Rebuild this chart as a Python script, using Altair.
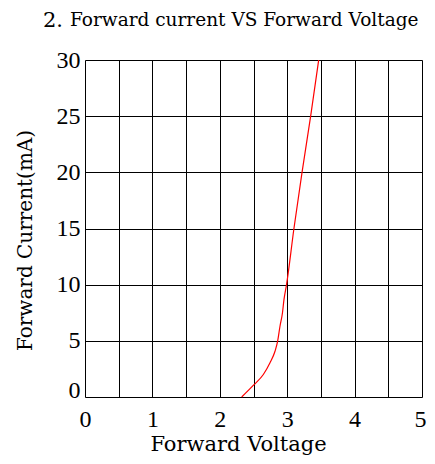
import altair as alt
import pandas as pd

# Data
voltage = [2.325, 2.50, 2.646, 2.745, 2.819, 2.859, 2.893, 2.93, 2.952, 2.99, 3.10, 3.22, 3.348, 3.467]
current = [0.0, 1.05, 2.0, 3.04, 4.07, 5.0, 6.3, 7.5, 8.67, 10.0, 15.0, 20.0, 25.0, 30.0]

x_ticks = [0, 0.5, 1, 1.5, 2, 2.5, 3, 3.5, 4, 4.5, 5]
y_ticks = [0, 5, 10, 15, 20, 25, 30]

title_num = "2."
title_text = "Forward current VS Forward Voltage"
x_title = "Forward Voltage"
y_title = "Forward Current(mA)"

df = pd.DataFrame({"V": voltage, "I": current})

W, H = 337, 337

line = alt.Chart(df).mark_line(color="red", strokeWidth=1.2, interpolate="monotone").encode(
    x=alt.X("V:Q", scale=alt.Scale(domain=[0, 5], nice=False),
            axis=alt.Axis(values=x_ticks, format="~g", grid=True, gridColor="black", gridOpacity=1,
                          gridWidth=1, ticks=False, domain=False, labelFlush=False,
                          labelExpr="datum.value % 1 == 0 ? datum.label : ''",
                          labelOffset=alt.expr("datum.value == 5 ? -2 : 0"),
                          labelFont="Liberation Serif", labelFontSize=24, labelColor="black",
                          labelPadding=10,
                          title=x_title, titleFont="DejaVu Serif", titleFontSize=21,
                          titleFontWeight="normal", titleColor="black",
                          titleX=153, titleY=53, titleBaseline="alphabetic", titleAlign="center")),
    y=alt.Y("I:Q", scale=alt.Scale(domain=[0, 30], nice=False),
            axis=alt.Axis(values=y_ticks, format="~g", grid=True, gridColor="black", gridOpacity=1,
                          gridWidth=1, ticks=False, domain=False, labelFlush=False,
                          labelBaseline=alt.expr("datum.value == 0 ? 'alphabetic' : 'middle'"),
                          labelFont="Liberation Serif", labelFontSize=24, labelColor="black",
                          labelPadding=5,
                          title=y_title, titleFont="DejaVu Serif", titleFontSize=20,
                          titleFontWeight="normal", titleColor="black",
                          titleX=-60, titleY=180, titleAngle=-90,
                          titleBaseline="middle", titleAlign="center")),
)

tdf = pd.DataFrame({"a": [0]})
t1 = alt.Chart(tdf).mark_text(font="DejaVu Serif", fontSize=21, align="left",
                              baseline="alphabetic", color="black").encode(
    x=alt.value(-42), y=alt.value(-33), text=alt.value(title_num))
t2 = alt.Chart(tdf).mark_text(font="DejaVu Serif", fontSize=18.5, align="left",
                              baseline="alphabetic", color="black").encode(
    x=alt.value(-15), y=alt.value(-34), text=alt.value(title_text))

chart = alt.layer(line, t1, t2).properties(
    width=W, height=H,
    autosize=alt.AutoSizeParams(type="none"),
    padding={"left": 77, "top": 52, "right": 5, "bottom": 59},
).configure_view(stroke="black", strokeWidth=1).configure(background="white")

chart.save("out.html", embed_options={"renderer": "svg", "actions": False})
